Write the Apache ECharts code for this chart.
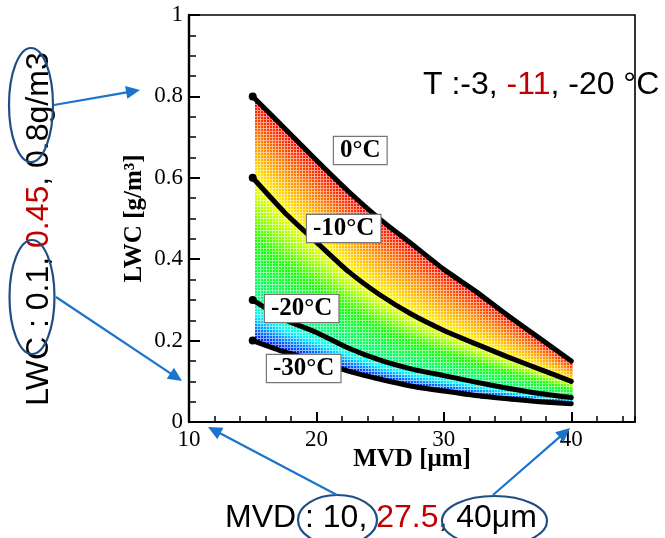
<!DOCTYPE html>
<html><head><meta charset="utf-8">
<script src="https://cdn.jsdelivr.net/npm/echarts@6/dist/echarts.min.js"></script>
<style>html,body{margin:0;padding:0;background:#fff}#c{width:665px;height:538px}</style>
</head><body><div id="c"></div>
<script>
// ---- data ----
const mvd    = [15, 17.5, 20, 22.5, 25, 27.5, 30, 32.5, 35, 37.5, 40];
const lwc0   = [0.80, 0.722, 0.643, 0.567, 0.498, 0.437, 0.375, 0.321, 0.262, 0.206, 0.15];
const lwcM10 = [0.60, 0.515, 0.442, 0.37, 0.312, 0.264, 0.225, 0.192, 0.16, 0.13, 0.10];
const lwcM20 = [0.30, 0.252, 0.22, 0.182, 0.152, 0.13, 0.114, 0.098, 0.083, 0.07, 0.06];
const lwcM30 = [0.20, 0.172, 0.15, 0.125, 0.105, 0.088, 0.076, 0.065, 0.057, 0.05, 0.045];
const temps = [0, -10, -20, -30];
const curveLabels = ['0°C', '-10°C', '-20°C', '-30°C'];
const xTicks = [10, 20, 30, 40];
const yTicks = [0, 0.2, 0.4, 0.6, 0.8, 1];

const curves = [lwc0, lwcM10, lwcM20, lwcM30];

// jet-like colour ramp over temperature
const ramp = [
  [0, [255, 0, 0]], [-5, [255, 140, 0]], [-10, [255, 255, 0]], [-12.5, [150, 255, 0]],
  [-15, [20, 255, 0]], [-20, [0, 255, 140]], [-23, [0, 255, 255]], [-26.5, [0, 128, 255]], [-30, [0, 0, 255]]
];
function rgbFor(T) {
  if (T >= ramp[0][0]) return ramp[0][1];
  for (let i = 0; i < ramp.length - 1; i++) {
    const [t0, c0] = ramp[i], [t1, c1] = ramp[i + 1];
    if (T <= t0 && T >= t1) {
      const f = (t0 - T) / (t0 - t1);
      return c0.map((v, k) => Math.round(v + f * (c1[k] - v)));
    }
  }
  return ramp[ramp.length - 1][1];
}

function renderField(params, api) {
  const i = params.dataIndex;
  const a = curves.map(c => api.coord([mvd[i], c[i]]));
  const b = curves.map(c => api.coord([mvd[i + 1], c[i + 1]]));
  const xa = a[0][0], xb = b[0][0];
  const P = 3;
  const xEnd = (i === mvd.length - 2) ? xb + 0.5 : xb;
  const children = [];
  for (let px = Math.ceil(xa / P) * P; px < xEnd; px += P) {
    const t = Math.min(1, Math.max(0, (px + 1 - xa) / (xb - xa)));
    const ys = a.map((p, k) => p[1] + t * (b[k][1] - p[1]));
    for (let py = Math.ceil(ys[0] / P) * P; py < ys[3]; py += P) {
      const yc = py + 1;
      let k = 0;
      while (k < 2 && yc > ys[k + 1]) k++;
      const f = Math.min(1, Math.max(0, (yc - ys[k]) / (ys[k + 1] - ys[k])));
      const T = temps[k] + f * (temps[k + 1] - temps[k]);
      const c = rgbFor(T);
      children.push({ type: 'rect', shape: { x: px, y: py, width: 3, height: 3 }, style: { fill: 'rgba(' + c.join(',') + ',0.45)' } });
      children.push({ type: 'rect', shape: { x: px, y: py, width: 2, height: 2 }, style: { fill: 'rgb(' + c.join(',') + ')' } });
    }
  }
  return { type: 'group', children };
}

function lineSeries(arr) {
  return {
    type: 'line', xAxisIndex: 0, yAxisIndex: 0, z: 5, silent: true, symbol: 'none', showSymbol: true,
    smooth: 0.2,
    data: mvd.map((x, i) => i === 0
      ? { value: [x, arr[i]], symbol: 'circle', symbolSize: 8, itemStyle: { color: '#000' } }
      : [x, arr[i]]),
    lineStyle: { color: '#000', width: 5, cap: 'round', join: 'round' }
  };
}

function arrow(x1, y1, x2, y2, color) {
  const dx = x2 - x1, dy = y2 - y1, L = Math.hypot(dx, dy), ux = dx / L, uy = dy / L;
  const hl = 14, hw = 6.5;
  const bx = x2 - ux * hl, by = y2 - uy * hl;
  return [
    { type: 'line', silent: true, z: 100, shape: { x1, y1, x2: bx + ux * 2, y2: by + uy * 2 }, style: { stroke: color, lineWidth: 2.2 } },
    { type: 'polygon', silent: true, z: 100, shape: { points: [[x2, y2], [bx - uy * hw, by + ux * hw], [bx + uy * hw, by - ux * hw]] }, style: { fill: color } }
  ];
}
function ellipse(cx, cy, rx, ry) {
  return { type: 'ellipse', silent: true, z: 100, shape: { cx, cy, rx, ry }, style: { fill: 'none', stroke: '#1f4e85', lineWidth: 2.2 } };
}
function boxLabel(x, y, txt) {
  return { type: 'text', x, y, z: 60, silent: true, style: {
    text: txt, font: 'bold 25px "Liberation Serif"', fill: '#000',
    backgroundColor: '#fff', borderColor: '#777', borderWidth: 1.2, padding: [1, 6, 1, 6] } };
}
const sans = '"Liberation Sans", Arial, sans-serif';
const richA = { fontSize: 32, fontFamily: sans, fill: '#000', color: '#000' };
const richR = { fontSize: 32, fontFamily: sans, fill: '#c00000', color: '#c00000' };
const blue = '#1a74cc';

const serif = '"Liberation Serif", "Times New Roman", serif';
const chart = echarts.init(document.getElementById('c'), null, { renderer: 'canvas' });
chart.setOption({
  animation: false,
  backgroundColor: '#fff',
  grid: { left: 189, right: 30, top: 15, bottom: 116, show: true, borderColor: '#000', borderWidth: 1.6, outerBoundsMode: 'none', containLabel: false },
  xAxis: [{
    type: 'value', min: 10, max: 45, interval: 10,
    name: 'MVD [μm]', nameLocation: 'middle', nameGap: 25, nameMoveOverlap: false,
    nameTextStyle: { fontFamily: serif, fontWeight: 'bold', fontSize: 25, color: '#000' },
    axisLine: { show: true, onZero: false, lineStyle: { color: '#000', width: 2 } },
    axisTick: { show: true, inside: true, length: 10, lineStyle: { color: '#000', width: 2 } },
    axisLabel: { showMaxLabel: false, fontFamily: serif, fontSize: 23, color: '#000', margin: 6,
      formatter: v => xTicks.includes(v) ? String(v) : '' },
    splitLine: { show: false }
  }, {
    type: 'value', min: 10, max: 45, interval: 2, position: 'bottom',
    axisLine: { show: false }, axisLabel: { show: false }, splitLine: { show: false },
    axisTick: { show: true, inside: true, length: 6, lineStyle: { color: '#000', width: 1.5 } }
  }],
  yAxis: [{
    type: 'value', min: 0, max: 1, interval: 0.2,
    name: 'LWC [g/m³]', nameLocation: 'middle', nameGap: 42, nameMoveOverlap: false,
    nameTextStyle: { fontFamily: serif, fontWeight: 'bold', fontSize: 25, color: '#000' },
    axisLine: { show: true, onZero: false, lineStyle: { color: '#000', width: 2.4 } },
    axisTick: { show: true, inside: true, length: 11, lineStyle: { color: '#000', width: 2 } },
    minorTick: { show: true, splitNumber: 4, length: 7, lineStyle: { color: '#000', width: 1.5 } },
    axisLabel: { fontFamily: serif, fontSize: 23, color: '#000', margin: 6,
      formatter: v => { const t = yTicks.find(q => Math.abs(q - v) < 1e-9); return t === undefined ? '' : String(t); } },
    splitLine: { show: false }
  }],
  series: [
    { type: 'custom', xAxisIndex: 0, yAxisIndex: 0, z: 1, silent: true, clip: true,
      renderItem: renderField,
      data: mvd.slice(0, -1).map((x, i) => [x, lwcM30[i]]) },
    lineSeries(lwc0), lineSeries(lwcM10), lineSeries(lwcM20), lineSeries(lwcM30)
  ],
  graphic: { elements: [
    boxLabel(334, 137, curveLabels[0]),
    boxLabel(307, 215, curveLabels[1]),
    boxLabel(265, 295, curveLabels[2]),
    boxLabel(267, 355, curveLabels[3]),
    { type: 'text', x: 423, y: 85, z: 100, silent: true, style: {
      text: '{a|T :-3, }{r|-11}{a|, -20 °C}', rich: { a: richA, r: richR }, align: 'left', verticalAlign: 'middle' } },
    { type: 'text', x: 225, y: 518, z: 100, silent: true, style: {
      text: '{a|MVD : 10, }{r|27.5}{a|, 40μm}', rich: { a: richA, r: richR }, align: 'left', verticalAlign: 'middle' } },
    { type: 'text', x: 39, y: 229, rotation: Math.PI / 2, z: 100, silent: true, style: {
      text: '{a|LWC : 0.1, }{r|0.45}{a|, 0.8g/m3}', rich: { a: richA, r: richR }, align: 'center', verticalAlign: 'middle' } },
    ellipse(31, 105, 22, 57),
    ellipse(32, 297, 22.5, 57),
    ellipse(337.5, 520, 39.5, 25),
    ellipse(494.5, 521, 52.5, 25),
    ...arrow(54, 105, 140, 90, blue),
    ...arrow(56, 297, 182, 381, blue),
    ...arrow(337, 495, 208, 427, blue),
    ...arrow(493, 495, 570, 428, blue)
  ] }
});
</script>
</body></html>
